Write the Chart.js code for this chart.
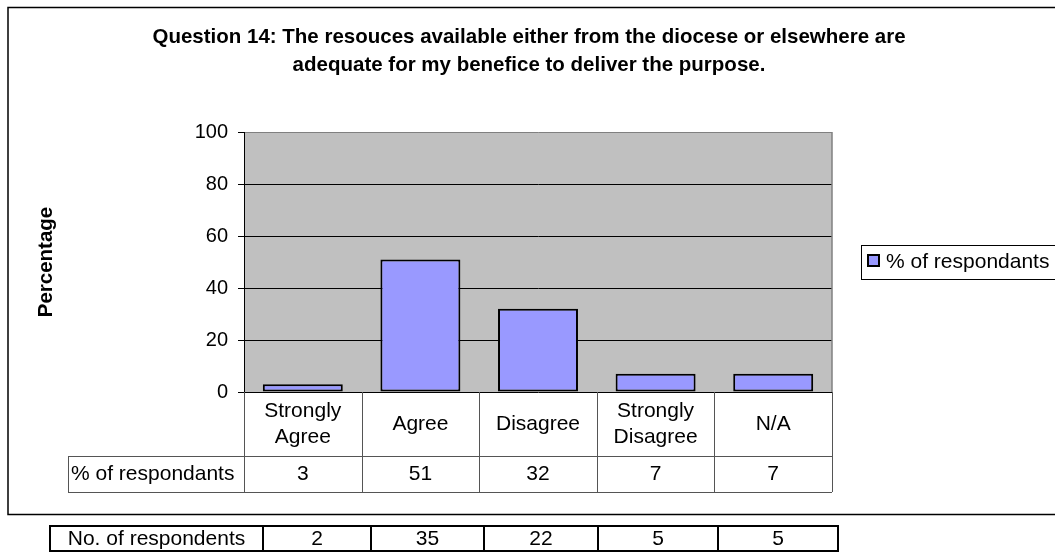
<!DOCTYPE html>
<html>
<head>
<meta charset="utf-8">
<script src="https://cdn.jsdelivr.net/npm/chart.js@4"></script>
<style>
  html, body { margin: 0; padding: 0; background: #fff; }
  #wrap { width: 1055px; height: 552px; }
</style>
</head>
<body>
<div id="wrap"><canvas id="chart" width="1055" height="552"></canvas></div>
<script>
// data
const categories = [['Strongly', 'Agree'], ['Agree'], ['Disagree'], ['Strongly', 'Disagree'], ['N/A']];
const pctValues = [3, 51, 32, 7, 7];
const respondentCounts = [2, 35, 22, 5, 5];
const seriesName = '% of respondants';
const countRowName = 'No. of respondents';
const titleLines = [
  'Question 14: The resouces available either from the diocese or elsewhere are',
  'adequate for my benefice to deliver the purpose.'
];
const yTitle = 'Percentage';

const FONT = '"Liberation Sans", Arial, sans-serif';
const BAR_FILL = '#9999FF';
const PLOT_BG = '#C0C0C0';

function txt(ctx, s, x, y, font, align) {
  ctx.font = font;
  ctx.fillStyle = '#000';
  ctx.textAlign = align || 'center';
  ctx.textBaseline = 'middle';
  ctx.fillText(s, x, y);
}

const decor = {
  id: 'decor',
  beforeDraw(chart) {
    const { ctx, chartArea: a } = chart;
    ctx.save();
    ctx.fillStyle = '#fff';
    ctx.fillRect(0, 0, chart.width, chart.height);
    ctx.fillStyle = PLOT_BG;
    ctx.fillRect(a.left, a.top, a.right - a.left, a.bottom - a.top);
    ctx.restore();
  },
  afterDraw(chart) {
    const { ctx, chartArea: a } = chart;
    const x = chart.scales.x;
    ctx.save();

    // outer chart frame
    ctx.strokeStyle = '#000';
    ctx.lineWidth = 1.5;
    ctx.strokeRect(8, 7.5, 1060, 507);

    // plot border, right side
    ctx.strokeStyle = '#808080';
    ctx.lineWidth = 1.5;
    ctx.beginPath();
    ctx.moveTo(a.right, a.top);
    ctx.lineTo(a.right, a.bottom);
    ctx.stroke();

    // title
    const tf = 'bold 20.5px ' + FONT;
    txt(ctx, titleLines[0], 529, 37, tf);
    txt(ctx, titleLines[1], 529, 65, tf);

    // y title
    ctx.save();
    ctx.translate(46, (a.top + a.bottom) / 2);
    ctx.rotate(-Math.PI / 2);
    txt(ctx, yTitle, 0, 0, 'bold 20.5px ' + FONT);
    ctx.restore();

    // data table under the axis
    const row1 = a.bottom, row2 = 456, row3 = 492, labLeft = 68;
    ctx.strokeStyle = '#555';
    ctx.lineWidth = 1;
    ctx.beginPath();
    ctx.moveTo(labLeft, row2 + 0.5); ctx.lineTo(a.right, row2 + 0.5);
    ctx.moveTo(labLeft, row3 + 0.5); ctx.lineTo(a.right, row3 + 0.5);
    ctx.moveTo(labLeft + 0.5, row2); ctx.lineTo(labLeft + 0.5, row3);
    ctx.moveTo(a.left + 0.5, row1); ctx.lineTo(a.left + 0.5, row3);
    const step = (a.right - a.left) / categories.length;
    for (let i = 1; i <= categories.length; i++) {
      const bx = Math.round(a.left + step * i) + 0.5;
      ctx.moveTo(bx, row1); ctx.lineTo(bx, row3);
    }
    ctx.stroke();

    const f = '21px ' + FONT;
    categories.forEach((lab, i) => {
      const cx = x.getPixelForValue(i);
      if (lab.length === 2) {
        txt(ctx, lab[0], cx, 411, f);
        txt(ctx, lab[1], cx, 437, f);
      } else {
        txt(ctx, lab[0], cx, 424, f);
      }
      txt(ctx, String(pctValues[i]), cx, 474, f);
    });
    txt(ctx, seriesName, 71, 474, f, 'left');

    // legend
    ctx.strokeStyle = '#000';
    ctx.lineWidth = 1;
    ctx.strokeRect(861.5, 245.5, 200, 34);
    ctx.fillStyle = BAR_FILL;
    ctx.fillRect(867, 254, 13, 13);
    ctx.lineWidth = 2;
    ctx.strokeRect(868, 255, 11, 11);
    txt(ctx, seriesName, 886, 262, f, 'left');

    // separate table of respondent counts
    const cols = [50, 263, 371, 484, 598, 718, 838];
    const tTop = 526, tBot = 551;
    ctx.strokeStyle = '#000';
    ctx.lineWidth = 2;
    ctx.beginPath();
    ctx.moveTo(cols[0], tTop); ctx.lineTo(cols[cols.length - 1], tTop);
    ctx.moveTo(cols[0], tBot); ctx.lineTo(cols[cols.length - 1], tBot);
    cols.forEach(c => { ctx.moveTo(c, tTop - 1); ctx.lineTo(c, tBot + 1); });
    ctx.stroke();
    txt(ctx, countRowName, (cols[0] + cols[1]) / 2, 539, f);
    respondentCounts.forEach((v, i) => {
      txt(ctx, String(v), (cols[i + 1] + cols[i + 2]) / 2, 539, f);
    });

    ctx.restore();
  }
};

new Chart(document.getElementById('chart'), {
  type: 'bar',
  data: {
    labels: categories.map(c => c.join(' ')),
    datasets: [{
      label: seriesName,
      data: pctValues,
      backgroundColor: BAR_FILL,
      borderColor: '#000',
      borderWidth: 2,
      borderSkipped: false,
      barPercentage: 0.68,
      categoryPercentage: 1
    }]
  },
  options: {
    responsive: false,
    animation: false,
    devicePixelRatio: 1,
    layout: { padding: { top: 132, bottom: 160, right: 223, left: 0 } },
    plugins: {
      legend: { display: false },
      title: { display: false },
      tooltip: { enabled: false }
    },
    scales: {
      x: { display: false },
      y: {
        min: 0,
        max: 100,
        afterFit(scale) { scale.width = 244; },
        border: { display: true, color: '#000', width: 1 },
        grid: {
          color: c => (c.tick && c.tick.value === 100 ? '#808080' : '#000'),
          tickColor: '#000',
          tickLength: 6,
          lineWidth: 1
        },
        ticks: {
          stepSize: 20,
          padding: 10,
          color: '#000',
          font: { family: FONT, size: 20 }
        }
      }
    }
  },
  plugins: [decor]
});
</script>
</body>
</html>
